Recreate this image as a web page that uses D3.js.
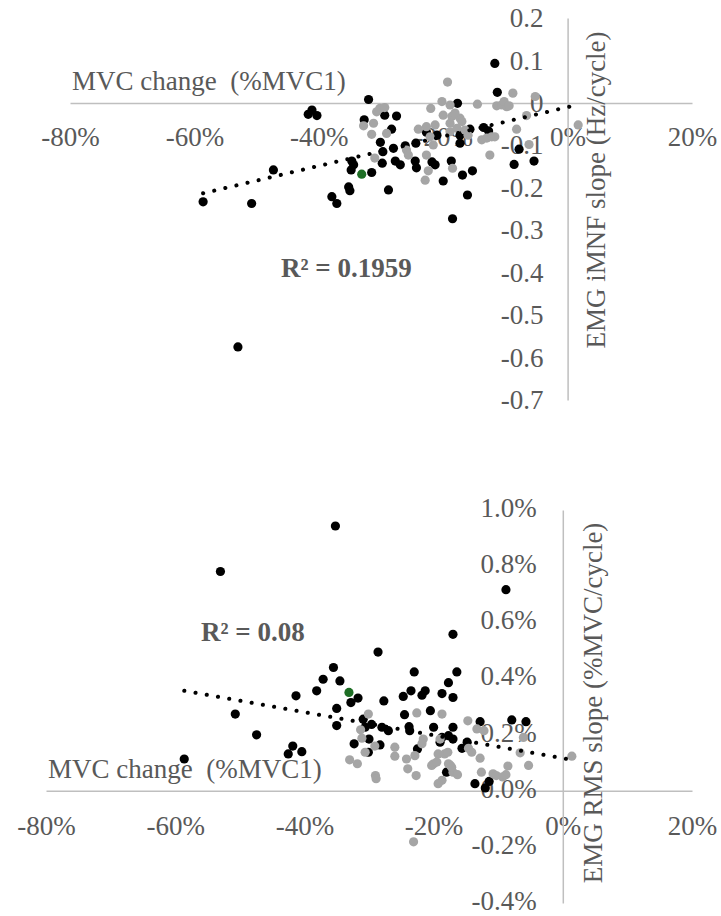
<!DOCTYPE html>
<html>
<head>
<meta charset="utf-8">
<script src="https://cdn.jsdelivr.net/npm/d3@7"></script>
<style>
  html, body { margin: 0; padding: 0; background: #fff; }
  svg { display: block; }
  svg text { font-family: "Liberation Serif", "DejaVu Serif", serif; fill: #595959; }
</style>
</head>
<body>
<svg id="chart" width="721" height="916"></svg>
<script>
// ---------- Data (x = MVC change in %, y = slope) ----------
const xTicks = [-80, -60, -40, -20, 0, 20];

// Top chart: EMG iMNF slope (Hz/cycle)
const topYTicks = [0.2, 0.1, 0, -0.1, -0.2, -0.3, -0.4, -0.5, -0.6, -0.7];
const topBlack = [
  [-32.0, 0.008], [-41.1, -0.017], [-41.7, -0.027], [-40.3, -0.030], [-32.7, -0.040],
  [-30.1, -0.093], [-29.7, -0.115], [-29.8, -0.142], [-31.5, -0.164],
  [-34.7, -0.137], [-34.4, -0.146], [-34.8, -0.158], [-35.2, -0.198], [-35.0, -0.207],
  [-37.9, -0.221], [-37.1, -0.237], [-47.3, -0.158], [-50.8, -0.237], [-58.6, -0.233],
  [-28.8, -0.205], [-11.7, 0.093], [-11.3, 0.025], [-17.7, -0.001], [-27.5, -0.031],
  [-29.4, -0.029], [-28.3, -0.062], [-28.0, -0.107], [-26.1, -0.101], [-24.4, -0.095],
  [-22.7, -0.069], [-21.0, -0.076], [-27.7, -0.137], [-26.9, -0.146], [-24.5, -0.137],
  [-24.3, -0.153], [-21.8, -0.139], [-21.3, -0.146], [-20.0, -0.184], [-18.7, -0.137],
  [-16.9, -0.170], [-15.3, -0.160], [-16.1, -0.217], [-17.3, -0.076], [-17.3, -0.095],
  [-15.7, -0.062], [-13.5, -0.058], [-12.7, -0.066], [-7.8, -0.109], [-8.6, -0.145],
  [-5.4, -0.137], [-53.0, -0.575], [-18.5, -0.273]
];
const topGray = [
  [-30.2, -0.013], [-30.7, -0.021], [-29.4, -0.011], [-32.8, -0.054], [-31.2, -0.048],
  [-31.5, -0.074], [-29.1, -0.072], [-31.0, -0.130], [-19.3, 0.049], [-8.8, 0.023],
  [-11.4, -0.007], [-10.6, -0.005], [-9.8, -0.009], [-10.2, 0.003], [-9.4, -0.007],
  [-5.2, 0.015], [-14.5, -0.003], [-20.2, 0.003], [-18.9, -0.005], [-20.0, -0.029],
  [-18.6, -0.032], [-17.3, -0.036], [-18.1, -0.024], [-17.0, -0.044], [-18.9, -0.048],
  [-22.0, -0.013], [-25.9, -0.111], [-25.6, -0.123], [-24.0, -0.062], [-22.7, -0.056],
  [-21.3, -0.052], [-22.1, -0.080], [-21.6, -0.099], [-22.7, -0.123], [-22.4, -0.160],
  [-22.9, -0.182], [-18.5, -0.154], [-18.9, -0.068], [-17.8, -0.060], [-16.5, -0.064],
  [-16.0, -0.076], [-13.8, -0.087], [-13.0, -0.083], [-12.2, -0.080], [-11.7, -0.080],
  [-12.5, -0.123], [-8.2, -0.062], [-6.6, -0.030], [-6.2, -0.098], [1.7, -0.052]
];
const topGreen = [[-33.1, -0.168]];
const topTrend = [[-58.6, -0.213], [1.7, -0.004]];
const topR2 = "R² = 0.1959";

// Bottom chart: EMG RMS slope (%MVC/cycle), y in percent
const botYTicks = [1.0, 0.8, 0.6, 0.4, 0.2, 0.0, -0.2, -0.4];
const botBlack = [
  [-35.2, 0.943], [-53.0, 0.781], [-8.8, 0.716], [-28.6, 0.494], [-17.0, 0.557],
  [-35.5, 0.439], [-37.1, 0.397], [-34.5, 0.391], [-38.1, 0.356], [-31.7, 0.330],
  [-32.8, 0.314], [-41.3, 0.338], [-50.7, 0.273], [-35.0, 0.293], [-35.0, 0.232],
  [-47.4, 0.199], [-41.8, 0.159], [-42.5, 0.131], [-40.4, 0.139], [-58.6, 0.113],
  [-30.9, 0.255], [-30.6, 0.226], [-29.6, 0.236], [-32.3, 0.167], [-23.0, 0.423],
  [-16.4, 0.423], [-17.7, 0.385], [-23.5, 0.356], [-21.3, 0.356], [-21.8, 0.340],
  [-24.7, 0.336], [-18.7, 0.346], [-17.0, 0.332], [-27.7, 0.320], [-24.5, 0.271],
  [-20.5, 0.285], [-28.0, 0.226], [-27.0, 0.214], [-23.8, 0.228], [-23.7, 0.214],
  [-20.0, 0.226], [-17.0, 0.226], [-30.0, 0.184], [-30.1, 0.137], [-22.5, 0.149],
  [-17.7, 0.196], [-17.0, 0.184], [-18.0, 0.066], [-18.7, 0.190], [-19.0, 0.173],
  [-28.3, 0.163], [-15.6, 0.151], [-14.8, 0.173], [-12.8, 0.246], [-7.9, 0.252],
  [-5.7, 0.246], [-13.6, 0.025], [-12.0, 0.010], [-11.4, 0.033]
];
const botGray = [
  [-30.1, 0.273], [-31.3, 0.217], [-31.1, 0.187], [-30.6, 0.137], [-33.0, 0.110],
  [-31.8, 0.096], [-22.6, 0.277], [-18.7, 0.273], [-29.1, 0.159], [-26.0, 0.155],
  [-26.0, 0.123], [-24.2, 0.113], [-24.0, 0.078], [-22.9, 0.125], [-21.6, 0.184],
  [-21.8, 0.167], [-19.0, 0.184], [-19.3, 0.131], [-18.3, 0.131], [-20.0, 0.096],
  [-17.4, 0.090], [-17.0, 0.066], [-18.7, 0.037], [-19.3, 0.025], [-22.7, 0.054],
  [-29.0, 0.054], [-28.9, 0.043], [-14.7, 0.249], [-13.3, 0.220], [-12.2, 0.214],
  [-14.6, 0.151], [-14.1, 0.137], [-12.8, 0.116], [-12.6, 0.066], [-10.8, 0.060],
  [-10.3, 0.054], [-9.3, 0.049], [-8.8, 0.057], [-8.5, 0.088], [-6.6, 0.135],
  [-5.3, 0.090], [-6.1, 0.190], [1.4, 0.123], [-20.3, 0.090], [-19.5, 0.102],
  [-17.8, 0.137], [-17.7, 0.096], [-17.2, 0.084], [-16.3, 0.057], [-23.1, -0.182]
];
const botGreen = [[-33.1, 0.350]];
const botTrend = [[-58.6, 0.356], [1.4, 0.110]];
const botR2 = "R² = 0.08";

const xTitle = "MVC change  (%MVC1)";
const topYTitle = "EMG iMNF slope (Hz/cycle)";
const botYTitle = "EMG RMS slope (%MVC/cycle)";

// ---------- Drawing ----------
const SERIF = '"Liberation Serif", "DejaVu Serif", serif';
const svg = d3.select("#chart");
svg.append("rect").attr("width", 721).attr("height", 916).attr("fill", "#fff");

const FONT = 27;
const AXIS_COLOR = "#bfbfbf";

function drawPanel(cfg) {
  const g = svg.append("g").attr("font-family", SERIF);
  const x = d3.scaleLinear().domain([-80, 20]).range(cfg.xRange);
  const y = d3.scaleLinear().domain(cfg.yDomain).range(cfg.yRange);

  // x axis (crosses at y = 0)
  const xAxis = g.append("g")
    .attr("transform", `translate(0,${y(0)})`)
    .call(d3.axisBottom(x).tickValues(xTicks).tickSize(0).tickSizeOuter(0)
      .tickPadding(cfg.xPad).tickFormat(d => d + "%"));
  // y axis (crosses at x = 0)
  const yAxis = g.append("g")
    .attr("transform", `translate(${x(0)},0)`)
    .call(d3.axisLeft(y).tickValues(cfg.yTicks).tickSize(0).tickSizeOuter(0)
      .tickPadding(cfg.yPad).tickFormat(cfg.yFormat));
  yAxis.selectAll("text").attr("dy", cfg.yDy);

  [xAxis, yAxis].forEach(a => {
    a.attr("font-family", SERIF).attr("font-size", FONT);
    a.select(".domain").attr("stroke", AXIS_COLOR).attr("stroke-width", 1.5);
    a.selectAll("text").attr("fill", "#595959");
  });

  // axis titles
  g.append("text").attr("x", cfg.xTitlePos[0]).attr("y", cfg.xTitlePos[1])
    .attr("font-size", FONT).style("white-space", "pre")
    .text(xTitle);
  g.append("text")
    .attr("transform", `translate(${cfg.yTitlePos[0]},${cfg.yTitlePos[1]}) rotate(-90)`)
    .attr("text-anchor", "middle").attr("font-size", FONT)
    .text(cfg.yTitle);

  // R² label
  g.append("text").attr("x", cfg.r2Pos[0]).attr("y", cfg.r2Pos[1])
    .attr("font-size", FONT).attr("font-weight", "bold").text(cfg.r2);

  // points
  const series = [
    { data: cfg.black, color: "#000000" },
    { data: cfg.gray, color: "#a5a5a5" },
    { data: cfg.green, color: "#1e6e25" }
  ];
  series.forEach(s => {
    g.append("g").selectAll("circle").data(s.data).join("circle")
      .attr("cx", d => x(d[0])).attr("cy", d => y(d[1]))
      .attr("r", 4.6).attr("fill", s.color);
  });

  // dotted trendline
  g.append("path").datum(cfg.trend)
    .attr("d", d3.line().x(d => x(d[0])).y(d => y(d[1])))
    .attr("fill", "none").attr("stroke", "#000").attr("stroke-width", 4)
    .attr("stroke-linecap", "round").attr("stroke-dasharray", "0.1 11.3");
}

drawPanel({
  xRange: [70, 692], yDomain: [-0.7, 0.2], yRange: [400, 18],
  yTicks: topYTicks, yFormat: d => (Math.abs(d) < 1e-9 ? "0" : String(+d.toFixed(1))),
  xPad: 24, yPad: 24, yDy: "0.32em",
  xTitlePos: [72, 90], yTitlePos: [605, 190], yTitle: topYTitle,
  r2: topR2, r2Pos: [281, 277],
  black: topBlack, gray: topGray, green: topGreen, trend: topTrend
});

drawPanel({
  xRange: [46, 692], yDomain: [-0.4, 1.0], yRange: [903, 510],
  yTicks: botYTicks, yFormat: d => d.toFixed(1) + "%",
  xPad: 25, yPad: 26, yDy: "0.24em",
  xTitlePos: [48, 778], yTitlePos: [602, 703], yTitle: botYTitle,
  r2: botR2, r2Pos: [201, 641],
  black: botBlack, gray: botGray, green: botGreen, trend: botTrend
});

// plain hyphen minus signs as in the reference
svg.selectAll(".tick text").each(function() {
  const t = d3.select(this);
  t.text(t.text().replace(/\u2212/g, "-"));
});
</script>
</body>
</html>
